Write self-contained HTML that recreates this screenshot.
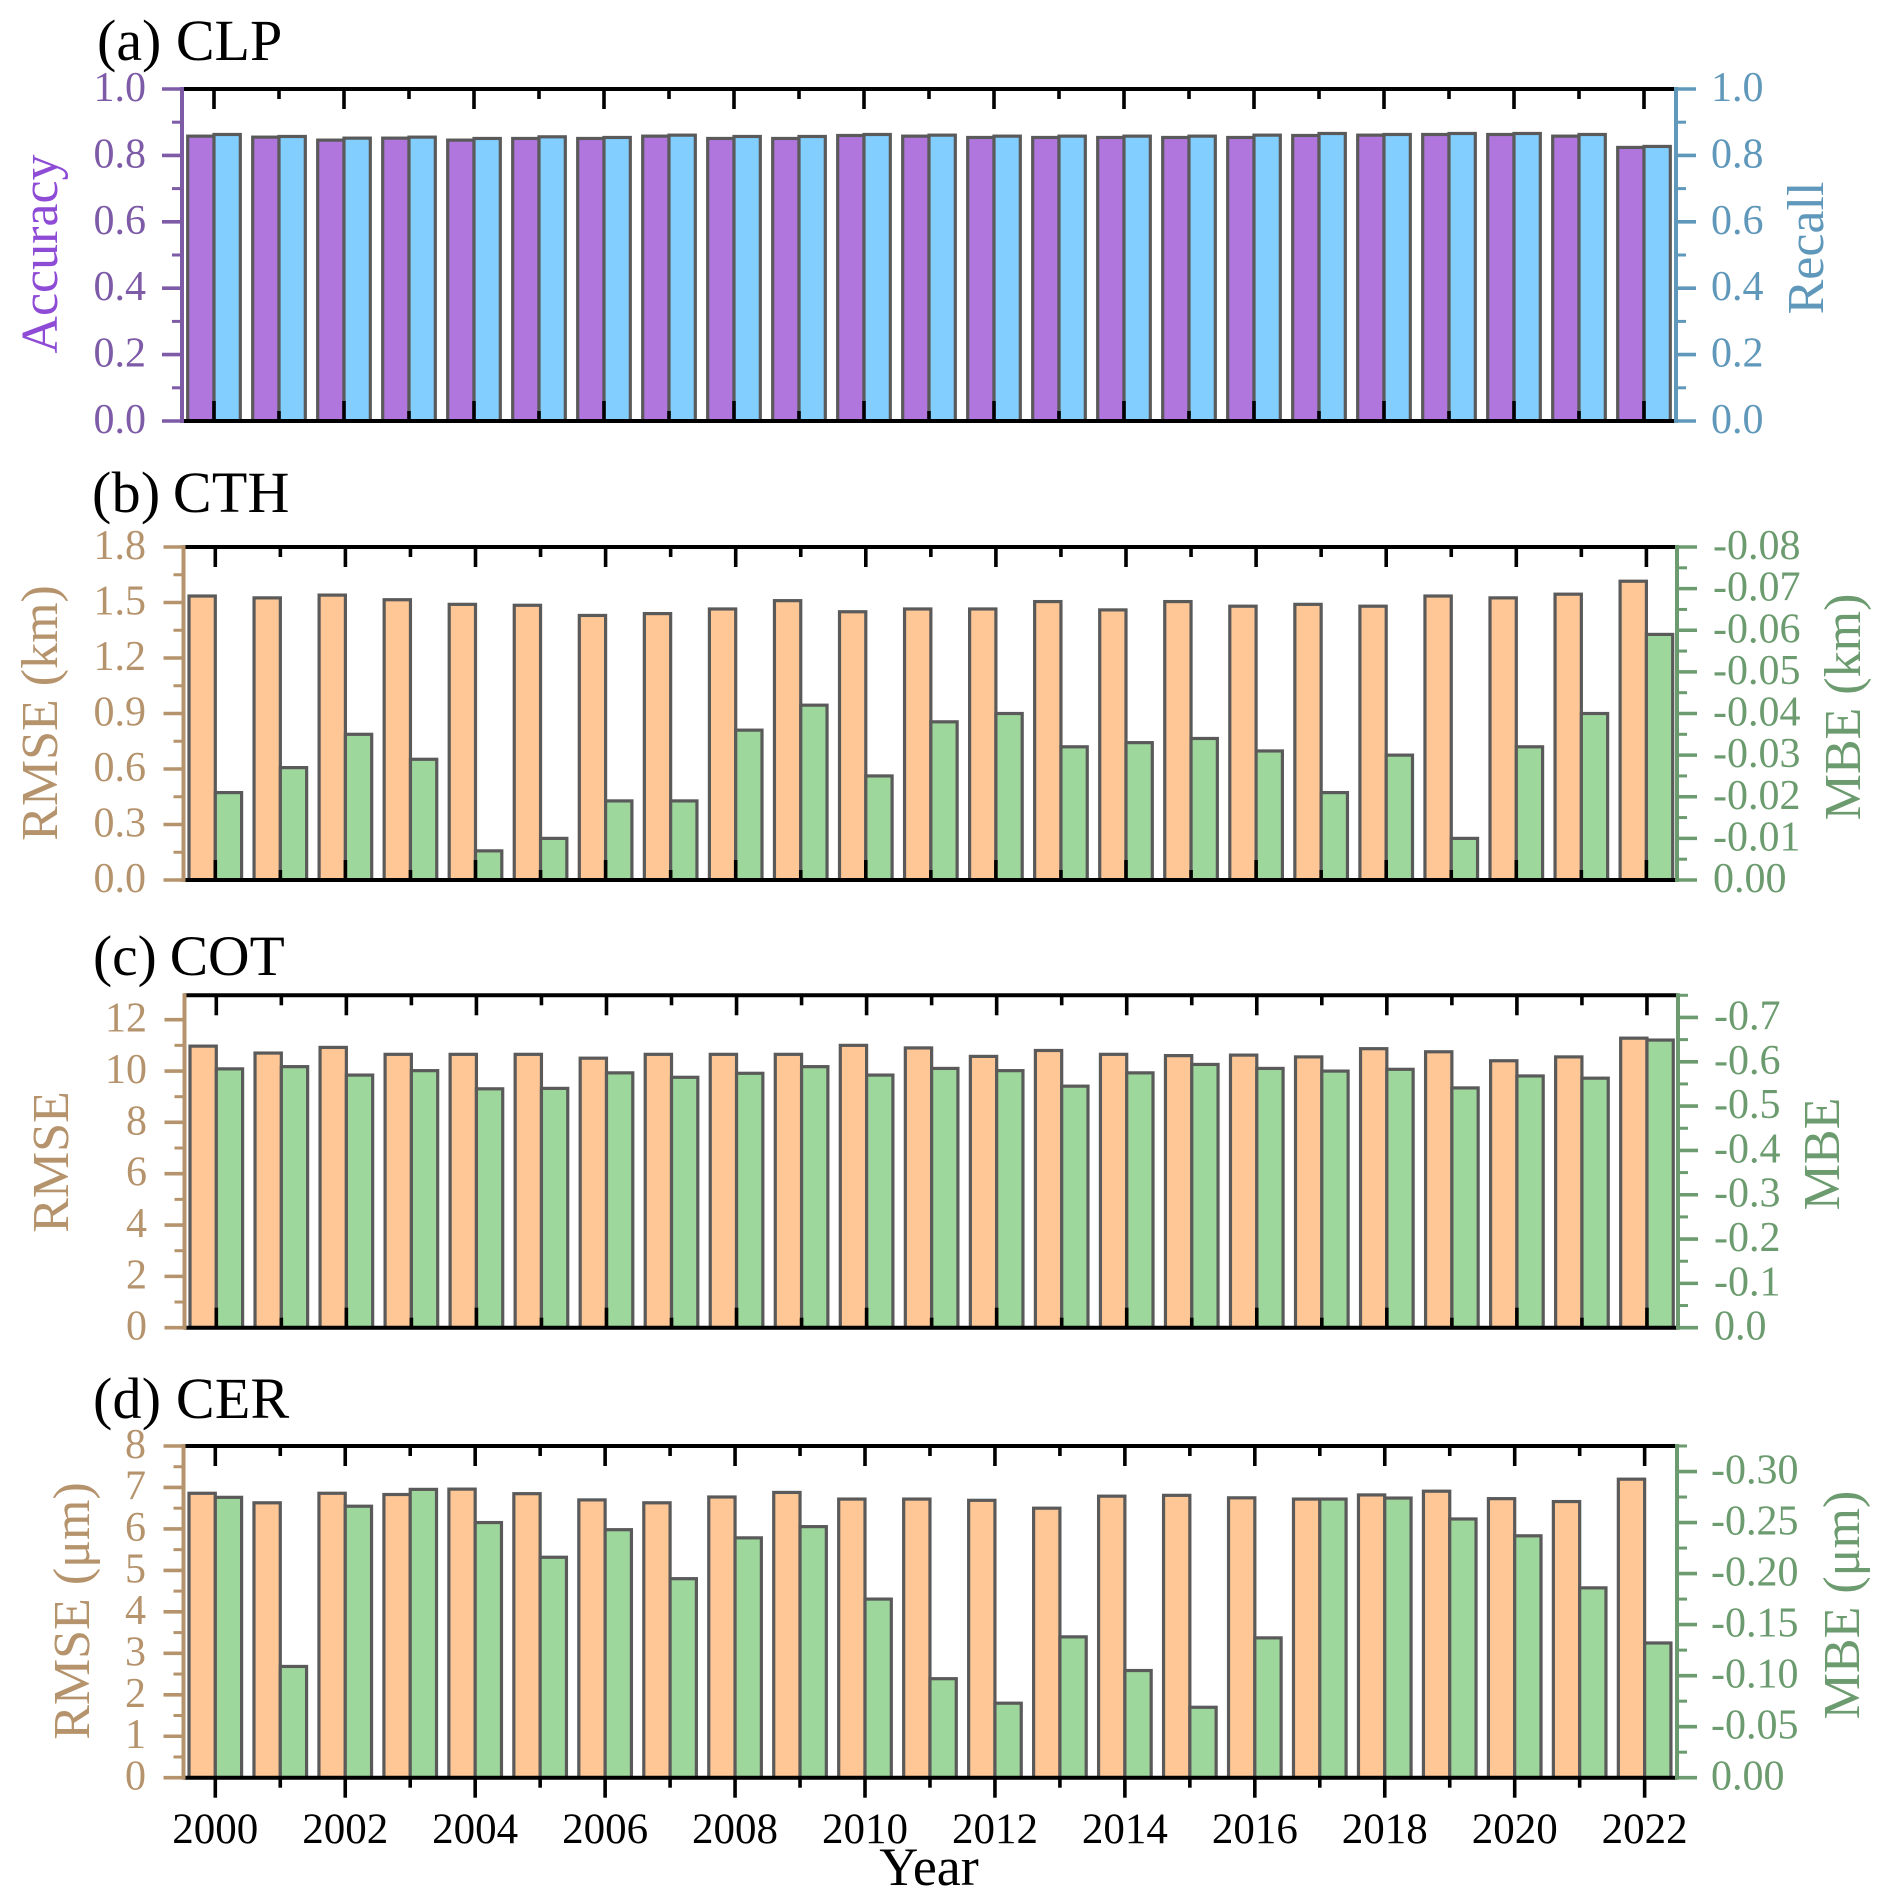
<!DOCTYPE html>
<html lang="en">
<head>
<meta charset="utf-8">
<title>Annual validation metrics for CLP, CTH, COT and CER</title>
<style>
html,body{margin:0;padding:0;background:#fff;width:1892px;height:1904px;overflow:hidden}
svg{display:block}
text{font-family:"Liberation Serif","Times New Roman",serif}
</style>
</head>
<body>
<svg id="chart" xmlns="http://www.w3.org/2000/svg" width="1892" height="1904" viewBox="0 0 1892 1904">
  <rect width="1892" height="1904" fill="#fff"/>
  <g id="marks"></g>
  <g font-size="58" fill="#000">
    <text x="97" y="60">(a) CLP</text>
    <text x="92" y="512" word-spacing="-2.5" letter-spacing="0.3">(b) CTH</text>
    <text x="93" y="975" word-spacing="-1.5" font-size="57.5">(c) COT</text>
    <text x="93" y="1418" letter-spacing="0.2">(d) CER</text>
  </g>
  <g font-size="52" text-anchor="middle">
    <text transform="translate(57 254) rotate(-90)" fill="#8E4BD6">Accuracy</text>
    <text transform="translate(1823 248) rotate(-90)" fill="#5F98BA">Recall</text>
    <text transform="translate(57 713) rotate(-90)" fill="#B5936C">RMSE (km)</text>
    <text transform="translate(1860 707) rotate(-90)" fill="#6B9B6E">MBE (km)</text>
    <text transform="translate(68 1162) rotate(-90)" fill="#B5936C">RMSE</text>
    <text transform="translate(1839 1154) rotate(-90)" fill="#6B9B6E">MBE</text>
    <text transform="translate(89 1611) rotate(-90)" fill="#B5936C">RMSE (μm)</text>
    <text transform="translate(1859 1605) rotate(-90)" fill="#6B9B6E">MBE (μm)</text>
    <text x="929" y="1885" fill="#000" font-size="54">Year</text>
  </g>
</svg>
<script>
// ---------- data ----------
const years = [2000,2001,2002,2003,2004,2005,2006,2007,2008,2009,2010,2011,2012,2013,2014,2015,2016,2017,2018,2019,2020,2021,2022];
const xTickLabels = ['2000','2002','2004','2006','2008','2010','2012','2014','2016','2018','2020','2022'];

const clpAccuracy = [0.858,0.855,0.846,0.852,0.846,0.851,0.851,0.858,0.851,0.851,0.860,0.858,0.854,0.854,0.854,0.854,0.854,0.860,0.861,0.863,0.863,0.858,0.824];
const clpRecall   = [0.863,0.857,0.852,0.855,0.851,0.856,0.854,0.861,0.857,0.857,0.863,0.861,0.858,0.858,0.858,0.858,0.861,0.866,0.863,0.866,0.866,0.863,0.827];
const clpLeftTicks  = ['0.0','0.2','0.4','0.6','0.8','1.0'];
const clpRightTicks = ['0.0','0.2','0.4','0.6','0.8','1.0'];

const cthRmse = [1.535,1.525,1.54,1.515,1.49,1.485,1.43,1.44,1.465,1.51,1.45,1.465,1.465,1.505,1.46,1.505,1.48,1.49,1.48,1.535,1.525,1.545,1.615];
const cthMbe  = [0.021,0.027,0.035,0.029,0.007,0.010,0.019,0.019,0.036,0.042,0.025,0.038,0.040,0.032,0.033,0.034,0.031,0.021,0.030,0.010,0.032,0.040,0.059];
const cthLeftTicks  = ['0.0','0.3','0.6','0.9','1.2','1.5','1.8'];
const cthRightTicks = ['0.00','-0.01','-0.02','-0.03','-0.04','-0.05','-0.06','-0.07','-0.08'];

const cotRmse = [10.97,10.7,10.92,10.65,10.65,10.65,10.5,10.65,10.65,10.65,11.0,10.9,10.57,10.8,10.65,10.6,10.62,10.55,10.87,10.75,10.4,10.55,11.28];
const cotMbe  = [0.584,0.589,0.57,0.58,0.539,0.54,0.575,0.565,0.574,0.589,0.57,0.585,0.58,0.545,0.575,0.594,0.585,0.579,0.583,0.541,0.568,0.563,0.649];
const cotLeftTicks  = ['0','2','4','6','8','10','12'];
const cotRightTicks = ['0.0','-0.1','-0.2','-0.3','-0.4','-0.5','-0.6','-0.7'];

const cerRmse = [6.86,6.63,6.86,6.83,6.96,6.85,6.7,6.63,6.77,6.88,6.72,6.72,6.69,6.5,6.79,6.81,6.75,6.72,6.82,6.91,6.73,6.66,7.2];
const cerMbe  = [0.2747,0.109,0.266,0.2825,0.250,0.216,0.243,0.195,0.235,0.246,0.175,0.097,0.073,0.138,0.105,0.069,0.137,0.273,0.274,0.2535,0.237,0.186,0.132];
const cerLeftTicks  = ['0','1','2','3','4','5','6','7','8'];
const cerRightTicks = ['0.00','-0.05','-0.10','-0.15','-0.20','-0.25','-0.30'];

// ---------- drawing ----------
const NS = 'http://www.w3.org/2000/svg';
const root = document.getElementById('marks');
function make(tag, parent, attrs){
  const n = document.createElementNS(NS, tag);
  for (const k in attrs) n.setAttribute(k, attrs[k]);
  parent.appendChild(n);
  return n;
}
const BAR_W = 26.3, MAJOR = 20, MINOR = 10;

function drawValueAxis(g, p, side, labels, maxV, color, labelX, name){
  const yOf = v => p.bottom - (v / maxV) * (p.bottom - p.top);
  const axisX = side === 'left' ? p.left : p.right;
  const dir = side === 'left' ? -1 : 1;
  const values = labels.map(s => Math.abs(parseFloat(s)));
  const step = values[1] - values[0];
  const axis = make('line', g, {x1:axisX, x2:axisX, y1:p.top-2, y2:p.bottom+2, stroke:color, 'stroke-width':4});
  
  
  labels.forEach((lab, i) => {
    const y = yOf(values[i]);
    const t = make('line', g, {x1:axisX, x2:axisX + dir*MAJOR, y1:y, y2:y, stroke:color, 'stroke-width':3.6});
    
    
    const txt = make('text', g, {x:labelX, y:y+12, fill:color, 'font-size':42, 'text-anchor': side === 'left' ? 'end' : 'start'});
    txt.textContent = lab;
    
    
  });
  for (let v = step/2; v <= maxV + 1e-9; v += step){
    const y = yOf(v);
    const t = make('line', g, {x1:axisX, x2:axisX + dir*MINOR, y1:y, y2:y, stroke:color, 'stroke-width':3});
    
    
  }
}

function drawPanel(p){
  const g = make('g', root, {});
  
  
  const xOf = i => p.x0 + i * p.dx;
  const yLeft = v => p.bottom - (v / p.leftMax) * (p.bottom - p.top);
  const yRight = v => p.bottom - (v / p.rightMax) * (p.bottom - p.top);

  years.forEach((yr, i) => {
    const a = make('rect', g, {x:xOf(i)-BAR_W, y:yLeft(p.leftValues[i]), width:BAR_W, height:p.bottom-yLeft(p.leftValues[i]), fill:p.leftFill, stroke:'#5a5a5a', 'stroke-width':3.2});
    
    
  });
  years.forEach((yr, i) => {
    const b = make('rect', g, {x:xOf(i), y:yRight(p.rightValues[i]), width:BAR_W, height:p.bottom-yRight(p.rightValues[i]), fill:p.rightFill, stroke:'#5a5a5a', 'stroke-width':3.2});
    
    
  });

  // top and bottom frame
  [p.top, p.bottom].forEach(y => {
    const f = make('line', g, {x1:p.left, x2:p.right, y1:y, y2:y, stroke:'#000', 'stroke-width':4});
    
    
  });

  // x ticks
  years.forEach((yr, i) => {
    const len = i % 2 === 0 ? MAJOR : MINOR;
    const x = xOf(i);
    const top = make('line', g, {x1:x, x2:x, y1:p.top, y2:p.top+len, stroke:'#000', 'stroke-width':3.6});
    
    
    const bot = make('line', g, {x1:x, x2:x, y1:p.bottom, y2:p.xLabels ? p.bottom+len : p.bottom-len, stroke:'#000', 'stroke-width':3.6});
    
    
  });
  if (p.xLabels){
    p.xLabels.forEach(lab => {
      const idx = years.indexOf(parseInt(lab, 10));
      const t = make('text', g, {x:xOf(idx), y:1843, fill:'#000', 'font-size':43, 'text-anchor':'middle'});
      t.textContent = lab;
      
      
    });
  }

  drawValueAxis(g, p, 'left', p.leftTicks, p.leftMax, p.leftColor, p.leftLabelX, p.leftName + '-axis');
  drawValueAxis(g, p, 'right', p.rightTicks, p.rightMax, p.rightColor, p.rightLabelX, p.rightName + '-axis');
}

const PURPLE = '#B076DE', BLUE = '#82CFFF', ORANGE = '#FEC795', GREEN = '#9ED79C';
const BROWN = '#B5936C', SAGE = '#6B9B6E';

drawPanel({name:'panel-a-clp', left:182, right:1676, top:89, bottom:421, x0:214, dx:65,
  leftValues:clpAccuracy, rightValues:clpRecall, leftMax:1, rightMax:1,
  leftFill:PURPLE, rightFill:BLUE, leftColor:'#7D5BA6', rightColor:'#5F98BA',
  leftTicks:clpLeftTicks, rightTicks:clpRightTicks, leftName:'accuracy', rightName:'recall',
  leftLabelX:146, rightLabelX:1711});

drawPanel({name:'panel-b-cth', left:183.5, right:1677, top:547, bottom:880, x0:215.3, dx:65.05,
  leftValues:cthRmse, rightValues:cthMbe, leftMax:1.8, rightMax:0.08,
  leftFill:ORANGE, rightFill:GREEN, leftColor:BROWN, rightColor:SAGE,
  leftTicks:cthLeftTicks, rightTicks:cthRightTicks, leftName:'rmse-km', rightName:'mbe-km',
  leftLabelX:146, rightLabelX:1713});

drawPanel({name:'panel-c-cot', left:184.5, right:1678, top:995.3, bottom:1327.7, x0:216.3, dx:65.03,
  leftValues:cotRmse, rightValues:cotMbe, leftMax:12.95, rightMax:0.75,
  leftFill:ORANGE, rightFill:GREEN, leftColor:BROWN, rightColor:SAGE,
  leftTicks:cotLeftTicks, rightTicks:cotRightTicks, leftName:'rmse-cot', rightName:'mbe-cot',
  leftLabelX:147, rightLabelX:1714});

drawPanel({name:'panel-d-cer', left:183.5, right:1677, top:1446, bottom:1777.7, x0:215.3, dx:64.97,
  leftValues:cerRmse, rightValues:cerMbe, leftMax:8, rightMax:0.325,
  leftFill:ORANGE, rightFill:GREEN, leftColor:BROWN, rightColor:SAGE,
  leftTicks:cerLeftTicks, rightTicks:cerRightTicks, leftName:'rmse-um', rightName:'mbe-um',
  leftLabelX:146, rightLabelX:1711, xLabels:xTickLabels});
</script>
</body>
</html>
